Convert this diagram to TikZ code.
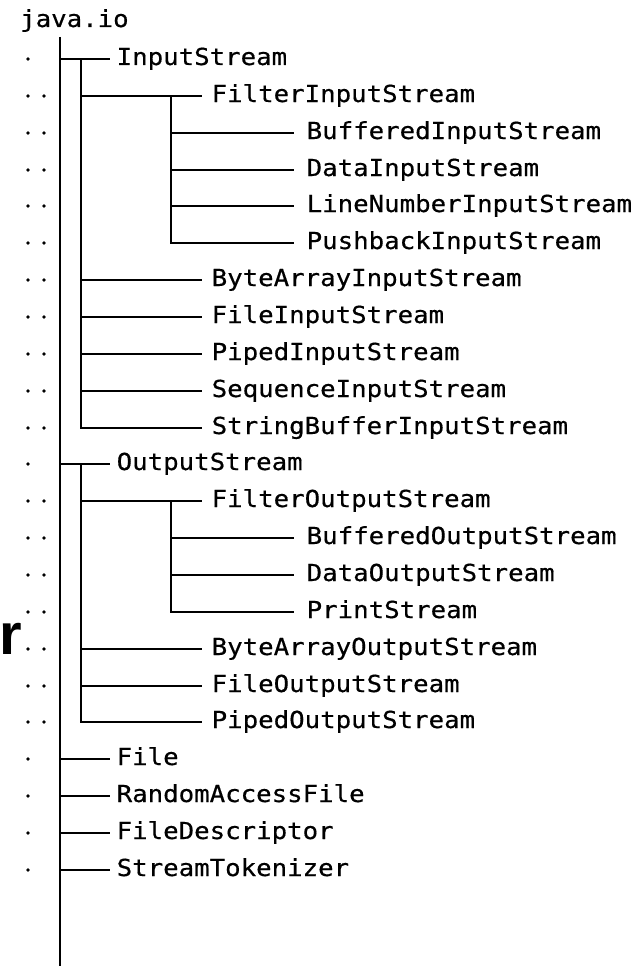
\documentclass[tikz,border=0pt]{standalone}
\usepackage{fontspec}
\newfontfamily\codefont[FakeStretch=1.1,FakeBold=0.5]{DejaVu Sans Mono}
\newfontfamily\bigrfont{Liberation Sans}
\begin{document}
\begin{tikzpicture}[x=1pt,y=-1pt,
  treeline/.style={line width=2.6pt,line cap=rect,black},
  lbl/.style={font=\codefont\fontsize{23.4}{28}\selectfont,text=black,
    inner ysep=0pt,text height=17pt,text depth=5pt,anchor=west},
  lvl1/.style={lbl,inner xsep=7.5pt},
  lvl2/.style={lbl,inner xsep=10.5pt},
  lvl3/.style={lbl,inner xsep=13.5pt},
  rowdot/.style={fill=black,draw=none}]
\useasboundingbox (0,0) rectangle (640,966);
\node[lbl,anchor=base west,inner xsep=0pt] (pkg) at (20,27) {java.io};
\node[font=\bigrfont\bfseries\fontsize{58}{62}\selectfont,anchor=base east,inner sep=0pt] (rr) at (22,654) {r};
\coordinate (top) at (60,37);
\coordinate (bot) at (60,966);
\draw[treeline,line cap=butt] (top) -- (bot);
\foreach \i/\t/\l in {0/InputStream/1,1/FilterInputStream/2,2/BufferedInputStream/3,
  3/DataInputStream/3,4/LineNumberInputStream/3,5/PushbackInputStream/3,
  6/ByteArrayInputStream/2,7/FileInputStream/2,8/PipedInputStream/2,
  9/SequenceInputStream/2,10/StringBufferInputStream/2,11/OutputStream/1,
  12/FilterOutputStream/2,13/BufferedOutputStream/3,14/DataOutputStream/3,
  15/PrintStream/3,16/ByteArrayOutputStream/2,17/FileOutputStream/2,
  18/PipedOutputStream/2,19/File/1,20/RandomAccessFile/1,21/FileDescriptor/1,
  22/StreamTokenizer/1}{
  \pgfmathsetmacro\yy{round(59+36.86*\i)}
  \pgfmathsetmacro\xe{\l==1?109:(\l==2?201:293)}
  \pgfmathsetmacro\xj{\l==1?60:(\l==2?81:171)}
  \node[lvl\l] (n\i) at (\xe,\yy) {\t};
  \coordinate (j\i) at (\xj,\yy);
  \draw[treeline] (j\i) -- (n\i.west);
  \fill[rowdot] (28,\yy) circle (1.8);
  \ifnum\l>1 \fill[rowdot] (44,\yy) circle (1.8); \fi
}
\coordinate (v2a) at (81,59);
\coordinate (v3a) at (171,96);
\coordinate (v2b) at (81,464);
\coordinate (v3b) at (171,501);
\draw[treeline] (v2a) -- (j10);
\draw[treeline] (v3a) -- (j5);
\draw[treeline] (v2b) -- (j18);
\draw[treeline] (v3b) -- (j15);
\end{tikzpicture}
\end{document}
